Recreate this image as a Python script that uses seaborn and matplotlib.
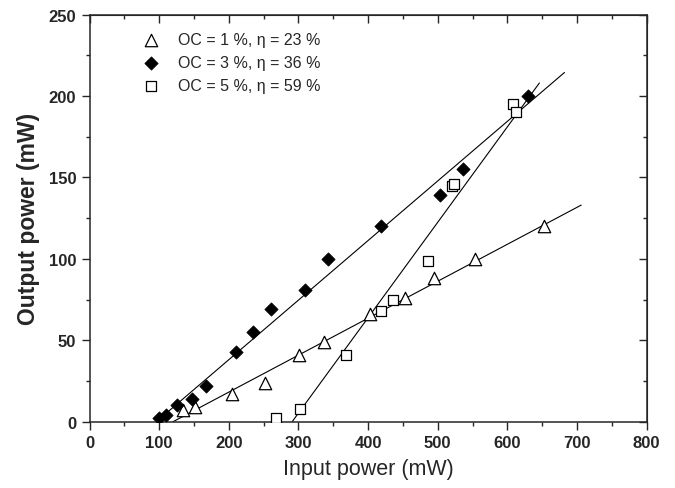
import numpy as np
import matplotlib
matplotlib.use("Agg")
import matplotlib.pyplot as plt
import seaborn as sns
from matplotlib.ticker import MultipleLocator

# measured points (input power mW, output power mW)
oc1_x = [134, 151, 205, 252, 301, 336, 403, 453, 494, 553, 653]
oc1_y = [7, 9, 17, 24, 41, 49, 66, 76, 88, 100, 120]

oc3_x = [100, 110, 126, 147, 167, 210, 235, 260, 310, 343, 419, 503, 536, 629]
oc3_y = [2, 4, 10, 14, 22, 43, 55, 69, 81, 100, 120, 139, 155, 200]

oc5_x = [268, 302, 369, 419, 436, 486, 520, 524, 608, 613]
oc5_y = [2, 8, 41, 68, 75, 99, 145, 146, 195, 190]

labels = ["OC = 1 %, \u03b7 = 23 %", "OC = 3 %, \u03b7 = 36 %", "OC = 5 %, \u03b7 = 59 %"]

# linear fits: slope, threshold (x at y=0), end of drawn line
fit_slope = [0.227, 0.366, 0.586]
fit_thresh = [120, 96, 291]
fit_end = [706, 682, 646]

sns.set_style("ticks")
plt.rcParams['font.family'] = ['Liberation Sans', 'DejaVu Sans']

fig = plt.figure(figsize=(6.75, 4.89), dpi=100)
ax = fig.add_axes([0.1326, 0.1356, 0.8254, 0.8324])

# fitted lines
for sl, th, xe in zip(fit_slope, fit_thresh, fit_end):
    xs = np.array([th, xe])
    ax.plot(xs, sl * (xs - th), color='black', lw=0.8, zorder=2)

sns.scatterplot(x=oc1_x, y=oc1_y, marker='^', s=80, color='white',
                edgecolor='black', linewidth=0.9, label=labels[0], ax=ax, zorder=3)
sns.scatterplot(x=oc3_x, y=oc3_y, marker='D', s=46, color='black',
                edgecolor='black', linewidth=0.5, label=labels[1], ax=ax, zorder=3)
sns.scatterplot(x=oc5_x, y=oc5_y, marker='s', s=52, color='white',
                edgecolor='black', linewidth=0.9, label=labels[2], ax=ax, zorder=3)

ax.set_xlim(0, 800)
ax.set_ylim(0, 250)
ax.xaxis.set_major_locator(MultipleLocator(100))
ax.xaxis.set_minor_locator(MultipleLocator(50))
ax.yaxis.set_major_locator(MultipleLocator(50))
ax.yaxis.set_minor_locator(MultipleLocator(25))

for sp in ax.spines.values():
    sp.set_visible(True)
    sp.set_linewidth(1.1)

ax.tick_params(which='major', direction='out', length=6, width=1.0, labelsize=12)
ax.tick_params(which='minor', direction='out', length=3, width=1.0)
for lab in ax.get_xticklabels() + ax.get_yticklabels():
    lab.set_fontweight('bold')

# inward ticks on top and right
top = ax.secondary_xaxis('top')
top.xaxis.set_major_locator(MultipleLocator(100))
top.xaxis.set_minor_locator(MultipleLocator(50))
top.tick_params(which='major', direction='in', length=6, width=1.0, labeltop=False)
top.tick_params(which='minor', direction='in', length=3, width=1.0)
right = ax.secondary_yaxis('right')
right.yaxis.set_major_locator(MultipleLocator(50))
right.yaxis.set_minor_locator(MultipleLocator(25))
right.tick_params(which='major', direction='in', length=6, width=1.0, labelright=False)
right.tick_params(which='minor', direction='in', length=3, width=1.0)

ax.set_xlabel("Input power (mW)", fontsize=15.5, labelpad=6)
ax.set_ylabel("Output power (mW)", fontsize=16.5, fontweight='bold', labelpad=6)

ax.legend(loc='upper left', bbox_to_anchor=(0.0955, 0.958), frameon=False,
          fontsize=11.5, handlelength=1.0, handletextpad=1.2, labelspacing=0.5,
          borderaxespad=0, borderpad=0, scatterpoints=1)

fig.savefig("out.png", dpi=100)
